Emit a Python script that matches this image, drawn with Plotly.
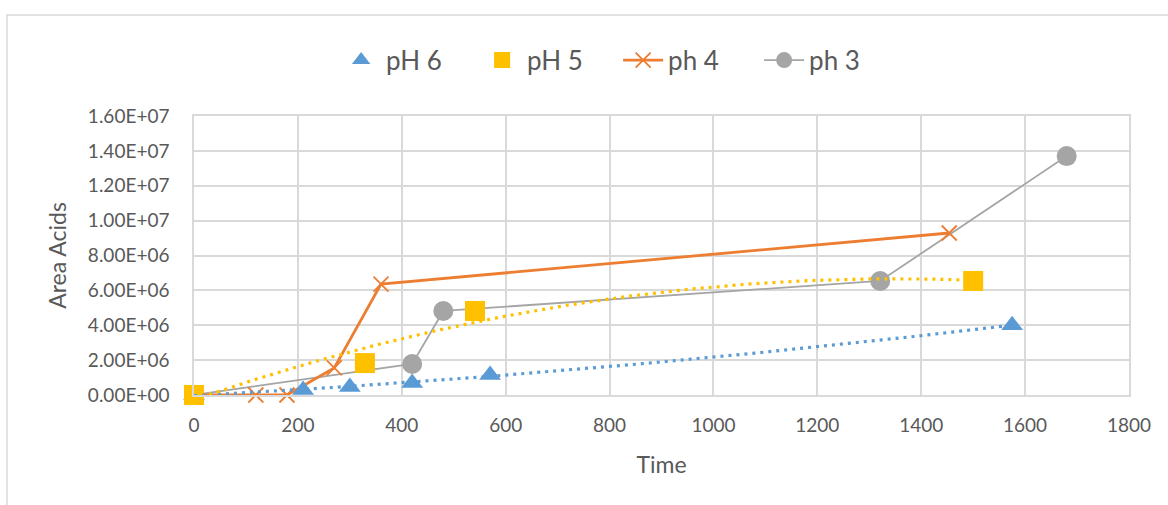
import numpy as np
import plotly.graph_objects as go

# Measured acid areas over time for each pH
ph6_time = [0, 210, 300, 420, 570, 1575]
ph6_area = [0, 0.29e6, 0.46e6, 0.69e6, 1.15e6, 4.0e6]

ph5_time = [0, 329, 541, 1500]
ph5_area = [0, 1.83e6, 4.82e6, 6.54e6]

ph4_time = [0, 119, 179, 270, 360, 1454]
ph4_area = [0, 0, 0, 1.55e6, 6.36e6, 9.29e6]

ph3_time = [0, 420, 480, 1321, 1680]
ph3_area = [0, 1.78e6, 4.82e6, 6.54e6, 13.7e6]

x_ticks = [0, 200, 400, 600, 800, 1000, 1200, 1400, 1600, 1800]
y_ticks = [0, 2e6, 4e6, 6e6, 8e6, 1e7, 1.2e7, 1.4e7, 1.6e7]
y_tick_text = [f"{v:.2E}" for v in y_ticks]

BLUE = "#5B9BD5"
YELLOW = "#FFC000"
ORANGE = "#ED7D31"
GRAY = "#A5A5A5"
TEXT = "#595959"
GRID = "#D9D9D9"
FONT = "Lato"


def poly_trend(xs, ys, deg=2, n=200):
    """Second-order polynomial trendline across the measured time span."""
    coef = np.polyfit(xs, ys, deg)
    xt = np.linspace(min(xs), max(xs), n)
    return xt, np.polyval(coef, xt)


fig = go.Figure()

# Series are stacked so that the squares sit above the lines,
# while the legend keeps the pH 6 / pH 5 / ph 4 / ph 3 order.
fig.add_trace(go.Scatter(
    x=ph3_time, y=ph3_area, mode="lines+markers", name="ph 3", cliponaxis=False,
    legendrank=4,
    line=dict(color=GRAY, width=1.8),
    marker=dict(symbol="circle", size=20, color=GRAY),
))
fig.add_trace(go.Scatter(
    x=ph4_time, y=ph4_area, mode="lines+markers", name="ph 4", cliponaxis=False,
    legendrank=3,
    line=dict(color=ORANGE, width=2.8),
    marker=dict(symbol="x-thin", size=15, color=ORANGE,
                line=dict(color=ORANGE, width=1.8)),
))
fig.add_trace(go.Scatter(
    x=ph6_time, y=ph6_area, mode="markers", name="pH 6", cliponaxis=False,
    legendrank=1,
    marker=dict(symbol="triangle-up", size=19, color=BLUE),
))
fig.add_trace(go.Scatter(
    x=ph5_time, y=ph5_area, mode="markers", name="pH 5", cliponaxis=False,
    legendrank=2,
    marker=dict(symbol="square", size=20, color=YELLOW),
))

# Dotted polynomial trendlines drawn on top, not listed in the legend
for xs, ys, col in [(ph6_time, ph6_area, BLUE), (ph5_time, ph5_area, YELLOW)]:
    xt, yt = poly_trend(xs, ys)
    fig.add_trace(go.Scatter(
        x=xt, y=yt, mode="lines", showlegend=False, hoverinfo="skip",
        line=dict(color=col, width=3.2, dash="3px,5px"),
    ))

fig.update_layout(
    width=1168, height=505,
    margin=dict(l=194, r=39, t=116, b=110),
    paper_bgcolor="white", plot_bgcolor="white",
    font=dict(family=FONT, color=TEXT, size=19),
    legend=dict(
        orientation="h", x=0.152, xanchor="left", y=1.2, yanchor="middle",
        font=dict(family=FONT, size=26, color=TEXT),
        itemwidth=40, entrywidth=86, entrywidthmode="pixels",
        traceorder="normal",
    ),
    xaxis=dict(
        range=[0, 1800], tickvals=x_ticks, showgrid=True, gridcolor=GRID,
        gridwidth=1.5, zeroline=False, showline=True, linecolor=GRID,
        linewidth=1.5, mirror=True, ticks="", ticklabelstandoff=12,
        tickfont=dict(size=19, color=TEXT),
        title=dict(text="Time", font=dict(size=23, color=TEXT), standoff=22),
    ),
    yaxis=dict(
        range=[0, 1.6e7], tickvals=y_ticks, ticktext=y_tick_text,
        showgrid=True, gridcolor=GRID, gridwidth=1.5, zeroline=False,
        showline=True, linecolor=GRID, linewidth=1.5, mirror=True,
        ticks="", ticklabelstandoff=19,
        tickfont=dict(size=19, color=TEXT),
        title=dict(text="Area Acids", font=dict(size=23, color=TEXT), standoff=15),
    ),
    shapes=[dict(
        type="rect", xref="paper", yref="paper",
        x0=-0.2, x1=1.06, y0=-0.45, y1=1.362,
        line=dict(color=GRID, width=1.5), fillcolor="rgba(0,0,0,0)",
        layer="below",
    )],
)

fig.write_html("out.html")
